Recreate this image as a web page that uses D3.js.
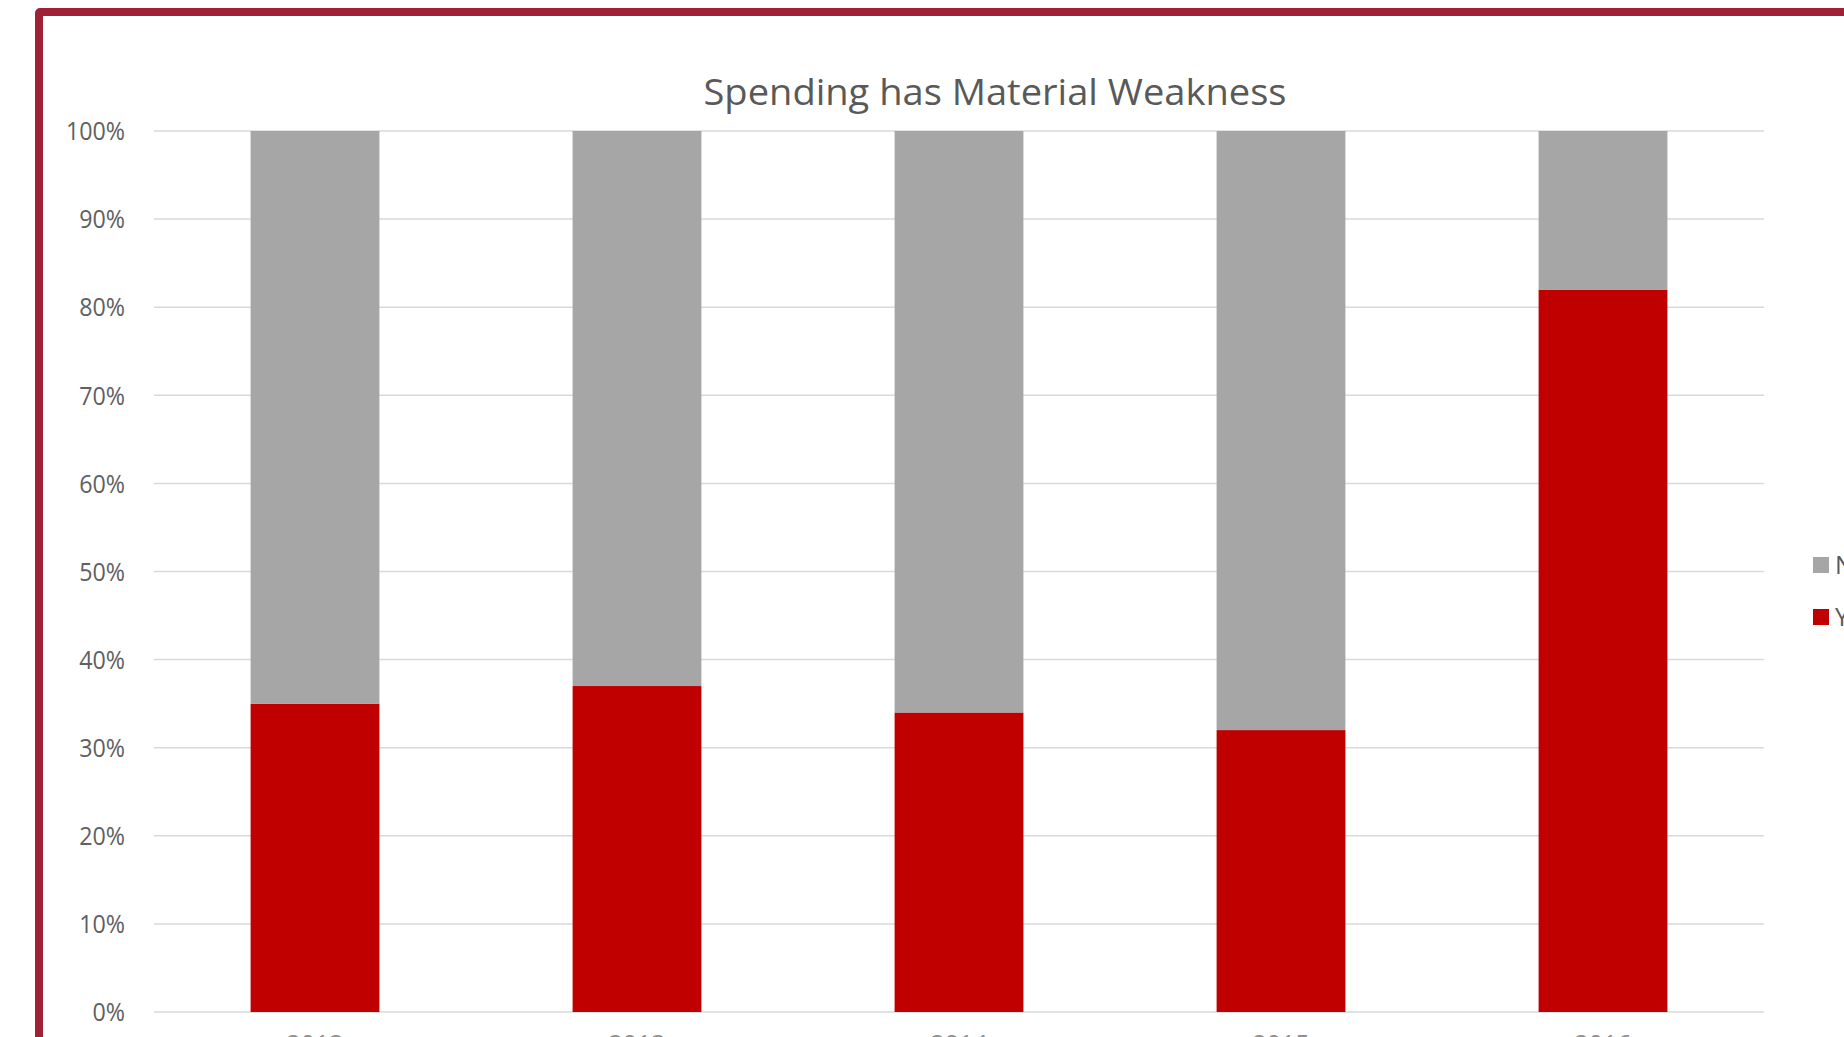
<!DOCTYPE html>
<html>
<head>
<meta charset="utf-8">
<script src="https://cdn.jsdelivr.net/npm/d3@7"></script>
<style>
  html, body { margin: 0; padding: 0; background: #fff; overflow: hidden; }
  #frame {
    position: absolute; left: 35px; top: 8px;
    width: 1900px; height: 1100px;
    border: 8px solid #9e2135; border-radius: 5px;
    box-sizing: border-box;
  }
  svg { position: absolute; left: 0; top: 0; }
  text { font-family: "Open Sans", "Noto Sans", sans-serif; fill: #595959; }
</style>
</head>
<body>
<div id="frame"></div>
<svg id="chart" width="1844" height="1037"></svg>
<script>
// Share of spending with / without a material weakness, per year
const categories = ["2012", "2013", "2014", "2015", "2016"];
const yesValues = [0.35, 0.37, 0.34, 0.32, 0.82];
const noValues = [0.65, 0.63, 0.66, 0.68, 0.18];
const seriesNames = ["Yes", "No"];
const yTicks = [0, 0.1, 0.2, 0.3, 0.4, 0.5, 0.6, 0.7, 0.8, 0.9, 1.0];
const title = "Spending has Material Weakness";

const colors = { Yes: "#c00000", No: "#a6a6a6" };
const squeeze = 0.93; // horizontal text compression

const svg = d3.select("#chart");
const plot = { left: 154, right: 1764, top: 131, bottom: 1012 };

const x = d3.scaleBand().domain(categories)
  .range([plot.left, plot.right]).paddingInner(0.6).paddingOuter(0.3);
const y = d3.scaleLinear().domain([0, 1]).range([plot.bottom, plot.top]);

const rows = categories.map((c, i) => ({ cat: c, Yes: yesValues[i], No: noValues[i] }));
const stacked = d3.stack().keys(seriesNames)(rows);

// gridlines
svg.append("g").selectAll("line").data(yTicks).join("line")
  .attr("x1", plot.left).attr("x2", plot.right)
  .attr("y1", d => y(d)).attr("y2", d => y(d))
  .attr("stroke", "#d9d9d9").attr("stroke-width", 1.5);

// y axis labels
const yAxis = svg.append("g")
  .attr("transform", `translate(${plot.left - 29},0)`)
  .call(d3.axisLeft(y).tickValues(yTicks).tickFormat(d3.format(".0%")).tickSize(0).tickPadding(0));
yAxis.select(".domain").remove();
yAxis.selectAll("text")
  .attr("x", 0).attr("dy", "0.35em")
  .style("font-size", "25px").style("fill", "#606060")
  .style("font-family", '"Open Sans", sans-serif')
  .attr("transform", `scale(${squeeze},1)`);

// stacked bars
svg.append("g").selectAll("g").data(stacked).join("g")
  .attr("fill", d => colors[d.key])
  .selectAll("rect").data(d => d).join("rect")
  .attr("x", d => x(d.data.cat))
  .attr("width", x.bandwidth())
  .attr("y", d => y(d[1]))
  .attr("height", d => y(d[0]) - y(d[1]));

// x axis labels (run past the bottom edge)
const xAxis = svg.append("g")
  .attr("transform", `translate(0,${plot.bottom})`)
  .call(d3.axisBottom(x).tickSize(0).tickPadding(0));
xAxis.select(".domain").remove();
xAxis.selectAll("text")
  .attr("y", 41).attr("dy", 0)
  .style("font-size", "25px").style("fill", "#909090")
  .style("font-family", '"Open Sans", sans-serif');

// title
svg.append("text")
  .attr("x", 995).attr("y", 105)
  .attr("text-anchor", "middle")
  .attr("textLength", 583).attr("lengthAdjust", "spacingAndGlyphs")
  .style("font-size", "36px")
  .text(title);

// legend
const legend = svg.append("g").selectAll("g").data(["No", "Yes"]).join("g")
  .attr("transform", (d, i) => `translate(1813,${565 + i * 52})`);
legend.append("rect")
  .attr("x", 0).attr("y", -8).attr("width", 16).attr("height", 16)
  .attr("fill", d => colors[d]);
legend.append("text")
  .attr("x", 22).attr("dy", "0.35em")
  .style("font-size", "25px")
  .text(d => d);
</script>
</body>
</html>
